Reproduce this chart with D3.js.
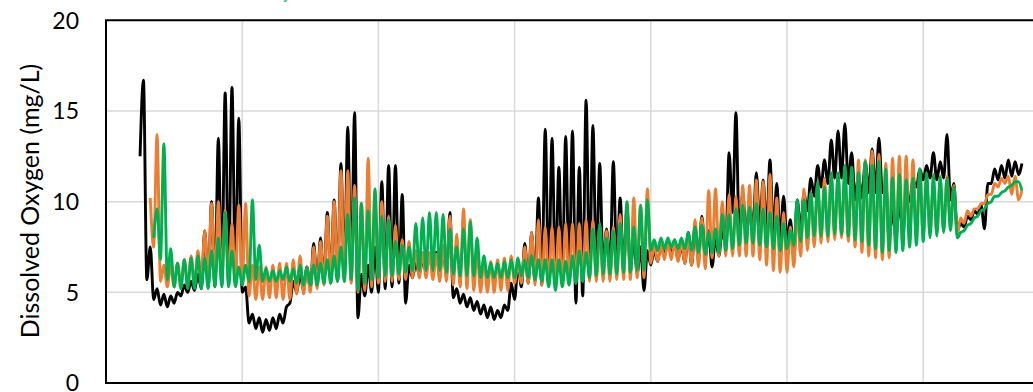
<!DOCTYPE html>
<html>
<head>
<meta charset="utf-8">
<script src="https://cdn.jsdelivr.net/npm/d3@7/dist/d3.min.js"></script>
<style>
  html, body { margin: 0; padding: 0; background: #fff; overflow: hidden; }
</style>
</head>
<body>
<div id="chart"></div>
<script>
// Daily [morning low, afternoon high] dissolved oxygen readings (mg/L), one pair per day
const blackStartDay = 5;
const blackDO = [
  [12.5, 16.7], [5.7, 7.5], [4.6, 5.2], [4.3, 4.9], [4.2, 4.8], [4.4, 5.0], [4.8, 5.4], [5.0, 5.6],
  [5.1, 6.0], [5.2, 8.4], [5.3, 10.0], [5.3, 13.5], [5.4, 16.0], [5.5, 16.3], [5.8, 14.6], [5.0, 5.3],
  [3.3, 3.8], [3.0, 3.6], [2.8, 3.5], [2.9, 3.6], [3.0, 3.8], [3.3, 4.2], [4.4, 5.6], [5.0, 6.0],
  [5.1, 6.4], [5.2, 7.7], [5.4, 8.0], [5.5, 9.4], [5.6, 10.1], [5.7, 12.1], [5.8, 14.1], [5.6, 14.9],
  [3.6, 6.0], [4.8, 6.5], [5.0, 7.5], [5.0, 11.1], [5.2, 12.0], [5.3, 12.0], [5.5, 10.4], [4.4, 6.5],
  [5.8, 6.6], [6.0, 6.8], [6.1, 7.0], [6.2, 7.2], [6.1, 7.4], [5.9, 9.4], [4.7, 5.2], [4.4, 4.9],
  [4.2, 4.7], [4.0, 4.5], [3.8, 4.3], [3.6, 4.2], [3.5, 4.0], [3.6, 4.3], [4.0, 5.5], [4.6, 6.5],
  [5.3, 7.7], [5.5, 8.3], [5.6, 10.2], [5.4, 14.0], [5.5, 13.5], [5.7, 11.9], [5.6, 13.6], [5.8, 13.9],
  [4.4, 11.9], [4.8, 15.6], [6.0, 14.2], [6.2, 12.1], [6.3, 8.5], [6.3, 12.2], [6.4, 10.2], [6.2, 9.7],
  [6.1, 8.0], [6.0, 7.5], [5.1, 7.3], [6.5, 7.3], [6.7, 7.6], [7.0, 7.8], [7.1, 7.7], [6.8, 7.6],
  [6.6, 8.3], [6.5, 8.6], [6.8, 9.2], [6.9, 8.4], [6.4, 8.0], [7.0, 8.5], [7.5, 12.7], [9.4, 14.9],
  [8.0, 10.5], [8.2, 10.0], [8.5, 11.6], [8.6, 11.2], [8.4, 12.3], [8.3, 11.0], [8.0, 10.3], [7.9, 9.0],
  [6.9, 10.1], [8.5, 10.5], [9.5, 11.3], [10.3, 12.0], [10.8, 12.3], [11.0, 13.4], [11.3, 13.9], [11.3, 14.3],
  [11.0, 12.7], [10.1, 11.5], [10.2, 12.2], [10.5, 12.9], [10.5, 13.5], [10.5, 11.0], [7.9, 9.5], [8.0, 10.0],
  [8.2, 10.3], [10.0, 11.2], [10.8, 11.8], [11.2, 12.0], [11.3, 12.7], [11.2, 12.2], [11.3, 13.7], [10.1, 11.0],
  [8.4, 8.8], [8.6, 9.2], [9.0, 9.5], [9.3, 9.8], [8.5, 11.0], [11.0, 11.8], [11.2, 12.0], [11.3, 12.3],
  [11.4, 12.2], [11.5, 12.1]
];

const orangeStartDay = 6;
const orangeDO = [
  [null, 10.2], [7.5, 13.7], [5.6, 6.5], [5.3, 6.5], [5.3, 6.6], [5.4, 6.8], [5.4, 7.0], [5.5, 7.3],
  [5.5, 8.4], [5.6, 9.9], [5.6, 10.0], [5.7, 9.5], [5.6, 8.8], [5.8, 9.8], [5.5, 9.9], [4.8, 6.5],
  [4.6, 6.4], [4.6, 6.4], [4.7, 6.5], [4.7, 6.6], [4.6, 6.6], [4.6, 6.8], [4.9, 7.0], [4.9, 6.4],
  [5.0, 7.5], [5.2, 7.8], [5.4, 9.2], [5.5, 10.0], [5.6, 11.7], [5.6, 11.7], [5.5, 10.9], [5.0, 9.9],
  [5.1, 12.4], [5.3, 10.1], [5.5, 10.0], [5.6, 9.2], [5.6, 8.7], [5.7, 7.9], [5.7, 7.8], [5.8, 7.3],
  [5.8, 7.2], [5.8, 7.2], [5.7, 7.1], [5.6, 7.6], [5.6, 9.2], [5.4, 8.2], [5.3, 9.6], [5.2, 9.0],
  [5.1, 7.2], [5.0, 6.8], [5.0, 6.7], [5.0, 6.8], [5.1, 6.9], [5.1, 7.0], [5.5, 6.6], [5.5, 7.5],
  [5.5, 8.3], [5.4, 9.0], [5.4, 8.6], [5.4, 8.6], [5.4, 8.6], [5.4, 8.8], [5.5, 8.8], [5.5, 8.8],
  [5.6, 9.0], [5.6, 9.0], [5.6, 8.6], [5.6, 8.4], [5.6, 8.6], [5.7, 9.3], [5.7, 9.9], [5.7, 10.2],
  [5.8, 9.8], [5.8, 10.7], [6.6, 7.6], [6.7, 7.6], [6.8, 7.8], [6.8, 7.8], [6.7, 7.8], [6.6, 8.2],
  [6.5, 9.0], [6.4, 9.1], [6.3, 10.6], [6.9, 10.7], [7.0, 10.0], [7.0, 10.4], [7.0, 10.3], [7.0, 10.9],
  [7.0, 10.9], [7.0, 11.2], [6.8, 11.1], [6.5, 11.5], [6.2, 10.2], [6.1, 9.4], [6.1, 8.6], [6.4, 9.5],
  [7.0, 10.7], [7.3, 10.5], [7.5, 11.0], [7.7, 11.3], [7.8, 11.5], [7.9, 11.4], [8.0, 11.3], [7.8, 11.6],
  [7.5, 12.3], [7.2, 12.3], [7.0, 12.8], [6.9, 12.6], [6.8, 12.1], [6.9, 12.4], [7.3, 12.5], [7.6, 12.5],
  [7.8, 12.3], [8.0, 11.7], [8.1, 11.3], [8.2, 11.0], [8.3, 11.1], [8.4, 11.4], [8.6, 10.9], [8.2, 9.1],
  [8.8, 9.5], [9.2, 9.6], [9.6, 9.9], [9.9, 10.4], [10.4, 11.0], [10.8, 11.3], [11.0, 11.4], [10.4, 11.4],
  [10.1, 10.6]
];

const greenStartDay = 7;
const greenDO = [
  [8.0, 9.6], [6.8, 13.2], [5.7, 7.4], [5.3, 6.6], [5.2, 6.8], [5.2, 6.9], [5.2, 7.0], [5.2, 6.9],
  [5.2, 7.3], [5.3, 8.0], [5.3, 9.4], [5.3, 7.3], [5.3, 6.4], [5.4, 6.5], [5.6, 10.1], [5.7, 7.6],
  [5.6, 6.3], [5.6, 6.2], [5.6, 6.2], [5.7, 6.4], [5.6, 6.3], [5.5, 6.5], [5.4, 6.4], [5.4, 6.5],
  [5.4, 6.6], [5.5, 6.8], [5.5, 7.0], [5.6, 7.5], [5.6, 9.3], [5.7, 10.2], [5.1, 9.9], [5.5, 9.5],
  [5.7, 10.7], [5.8, 9.2], [5.9, 9.0], [5.9, 7.8], [6.0, 7.6], [6.1, 7.5], [6.2, 8.8], [6.2, 9.1],
  [6.2, 9.4], [6.2, 9.4], [6.2, 9.3], [6.1, 8.5], [6.0, 7.5], [5.9, 8.5], [5.9, 8.9], [5.9, 8.0],
  [5.8, 7.0], [5.8, 6.6], [5.8, 6.6], [5.8, 6.7], [5.8, 6.8], [5.8, 6.9], [5.9, 6.8], [5.8, 7.0],
  [5.7, 6.8], [5.6, 6.8], [5.3, 6.8], [5.1, 6.8], [5.3, 6.7], [5.4, 7.0], [5.5, 7.3], [5.6, 7.2],
  [5.8, 8.5], [5.9, 8.8], [6.0, 8.0], [6.0, 8.4], [6.0, 8.8], [6.1, 10.0], [6.1, 8.6], [6.2, 9.8],
  [6.2, 10.1], [7.3, 7.9], [7.3, 8.0], [7.4, 8.0], [7.5, 7.9], [7.4, 8.0], [7.4, 8.3], [7.3, 8.6],
  [7.2, 8.7], [7.1, 8.3], [7.2, 8.5], [7.2, 9.3], [7.3, 9.3], [7.4, 9.6], [7.6, 9.8], [7.7, 9.7],
  [7.7, 9.9], [7.6, 9.6], [7.5, 9.4], [7.4, 9.2], [7.3, 8.8], [7.4, 8.4], [7.6, 10.1], [7.8, 10.1],
  [8.0, 10.5], [8.1, 11.1], [8.1, 10.8], [8.1, 11.6], [8.2, 11.6], [8.2, 12.0], [8.1, 11.9], [7.9, 11.6],
  [7.8, 12.2], [7.6, 12.0], [7.4, 12.2], [7.2, 11.8], [7.3, 11.3], [7.2, 11.5], [7.3, 11.2], [7.5, 11.3],
  [7.6, 11.8], [7.8, 11.6], [8.0, 11.5], [8.1, 11.4], [8.3, 11.3], [8.4, 10.8], [8.0, 8.3], [8.4, 8.7],
  [8.8, 9.1], [9.2, 9.5], [9.6, 9.9], [10.0, 10.3], [10.3, 10.5], [10.6, 10.8], [10.9, 11.1], [11.1, 10.6]
];

const yTicks = [0, 5, 10, 15, 20];
const xGridDays = [20, 40, 60, 80, 100, 120, 140];
const yTitle = 'Dissolved Oxygen (mg/L)';

const width = 1033;
const height = 392;
const font = 'Lato, "Open Sans", sans-serif';

const svg = d3.select('#chart')
  .append('svg')
  .attr('width', width)
  .attr('height', height)
  .style('display', 'block');

// Scales
const x = d3.scaleLinear().domain([0, 140]).range([106, 106 + 140 * 6.81]);
const y = d3.scaleLinear().domain([0, 20]).range([383, 20.3]);

// Gridlines
svg.append('g')
  .selectAll('line')
  .data(yTicks.filter((t) => t > 0 && t < 20))
  .enter()
  .append('line')
  .attr('x1', x(0)).attr('x2', x(140))
  .attr('y1', (d) => y(d)).attr('y2', (d) => y(d))
  .attr('stroke', '#d9d9d9')
  .attr('stroke-width', 1.5);

svg.append('g')
  .selectAll('line')
  .data(xGridDays)
  .enter()
  .append('line')
  .attr('x1', (d) => x(d)).attr('x2', (d) => x(d))
  .attr('y1', y(0)).attr('y2', y(20))
  .attr('stroke', '#d9d9d9')
  .attr('stroke-width', 1.5);

// Series
const toPoints = (pairs, start) =>
  pairs.flatMap((p, i) => [
    { t: start + i, v: p[0] },
    { t: start + i + 0.5, v: p[1] },
  ]).filter((p) => p.v != null);

const line = d3.line()
  .x((d) => x(d.t))
  .y((d) => y(d.v))
  .curve(d3.curveMonotoneX);

const series = [
  { pts: toPoints(blackDO, blackStartDay), color: '#000000' },
  { pts: toPoints(orangeDO, orangeStartDay), color: '#ED7D31' },
  { pts: toPoints(greenDO, greenStartDay), color: '#00B050' },
];

svg.append('g')
  .selectAll('path')
  .data(series)
  .enter()
  .append('path')
  .attr('d', (d) => line(d.pts))
  .attr('fill', 'none')
  .attr('stroke', (d) => d.color)
  .attr('stroke-width', 2.9)
  .attr('stroke-linejoin', 'round');

// Frame
svg.append('path')
  .attr('d', `M${x(140)},${y(20)}H${x(0)}V${y(0)}H${x(140)}`)
  .attr('fill', 'none')
  .attr('stroke', '#000')
  .attr('stroke-width', 2);

// Y tick labels
svg.append('g')
  .selectAll('text')
  .data(yTicks)
  .enter()
  .append('text')
  .attr('x', 79)
  .attr('y', (d) => y(d))
  .attr('dy', '0.36em')
  .attr('text-anchor', 'end')
  .style('font-family', font)
  .style('font-size', '23px')
  .style('fill', '#000')
  .text((d) => d);

// Y title
svg.append('text')
  .attr('transform', 'translate(30,201) rotate(-90)')
  .attr('dy', '0.35em')
  .attr('text-anchor', 'middle')
  .style('font-family', font)
  .style('font-size', '25px')
  .style('fill', '#000')
  .text(yTitle);

// Legend label cut off at the top edge
svg.append('text')
  .attr('x', 294)
  .attr('y', -2)
  .attr('text-anchor', 'end')
  .style('font-family', font)
  .style('font-size', '24px')
  .style('font-weight', 'bold')
  .style('font-style', 'italic')
  .style('fill', '#4fcb80')
  .text('Buoy');
</script>
</body>
</html>
